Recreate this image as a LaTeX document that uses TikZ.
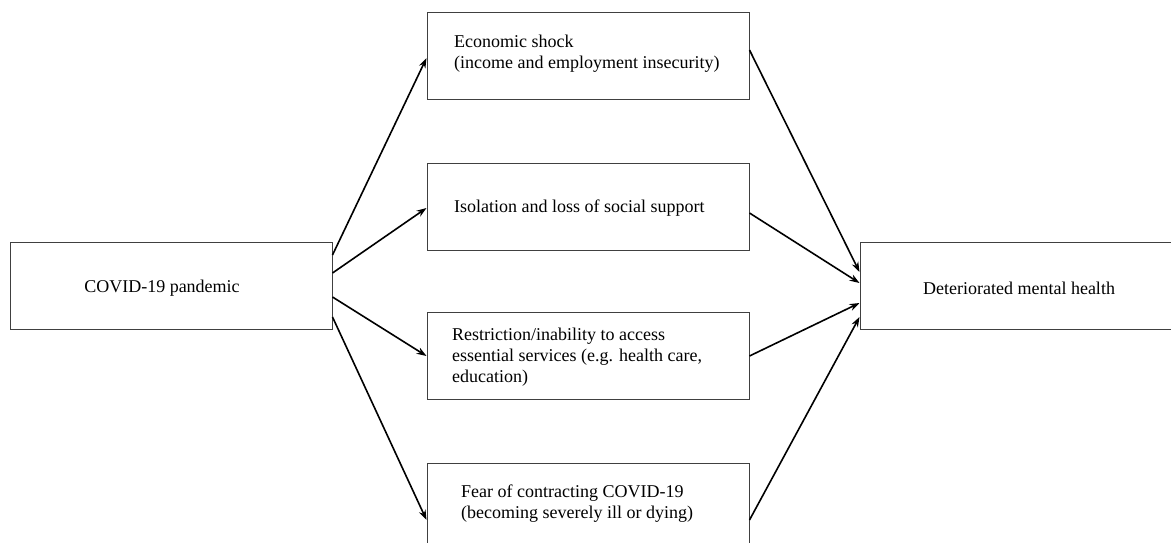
\documentclass[tikz,border=0pt]{standalone}
\usepackage{fontspec}
\setmainfont{Liberation Serif}
\usetikzlibrary{arrows.meta}
\begin{document}
\begin{tikzpicture}[x=1pt,y=-1pt,
  box/.style={draw=black!75, line width=1pt, minimum width=322pt, minimum height=87pt, inner sep=0pt},
  txt/.style={font=\fontsize{18}{21}\selectfont, align=left, inner sep=0pt},
  arr/.style={line width=1.6pt, -{Stealth[length=10pt,width=7pt]}}]
\clip (0,0) rectangle (1171,543);
\fill[white] (0,0) rectangle (1171,543);
% boxes
\node[box] (L) at (171,286) {};
\node[txt] (Lt) at (162,288) {COVID-19 pandemic};
\node[box] (R) at (1021,286) {};
\node[txt] (Rt) at (1019,288) {Deteriorated mental health};
\node[box] (b1) at (588,56.5) {};
\node[txt, anchor=west] (b1t) at (454,54) {Economic shock\\(income and employment insecurity)};
\node[box] (b2) at (588,206.5) {};
\node[txt, anchor=west] (b2t) at (454,208) {Isolation and loss of social support};
\node[box] (b3) at (588,356) {};
\node[txt, anchor=west] (b3t) at (452,357) {Restriction/inability to access\\essential services (e.g. health care,\\education)};
\node[box] (b4) at (588,506.5) {};
\node[txt, anchor=west] (b4t) at (461,504) {Fear of contracting COVID-19\\(becoming severely ill or dying)};
% arrows from left
\draw[arr] ([yshift=31pt]L.east) -- ([yshift=-1.5pt]b1.west);
\draw[arr] ([yshift=13pt]L.east) -- ([yshift=-1.5pt]b2.west);
\draw[arr] ([yshift=-11pt]L.east) -- (b3.west);
\draw[arr] ([yshift=-31pt]L.east) -- ([yshift=-13.5pt]b4.west);
% arrows to right
\draw[arr] ([yshift=6.5pt]b1.east) -- ([yshift=14pt]R.west);
\draw[arr] ([yshift=-6.5pt]b2.east) -- ([yshift=3pt]R.west);
\draw[arr] (b3.east) -- ([yshift=-17pt]R.west);
\draw[arr] ([yshift=-13.5pt]b4.east) -- ([yshift=-31pt]R.west);
\end{tikzpicture}
\end{document}
